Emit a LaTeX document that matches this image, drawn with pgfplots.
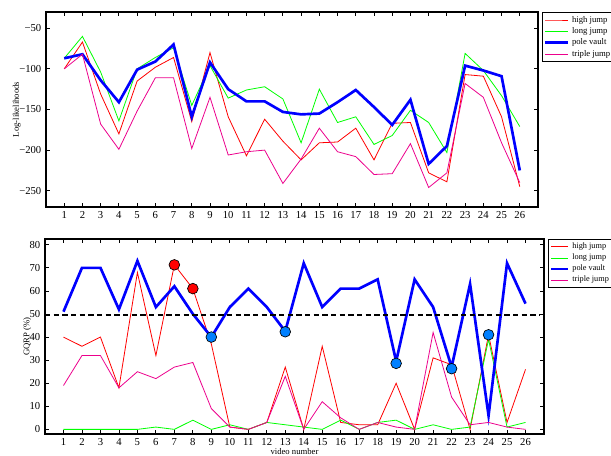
\documentclass[border=0pt]{standalone}
\usepackage{pgfplots}
\pgfplotsset{compat=1.18}
\usepackage{fontspec}
\setmainfont{Liberation Serif}
\definecolor{mkblue}{RGB}{0,128,255}
\pgfplotsset{shortleg/.style={legend image code/.code={\draw[##1] plot coordinates {(0cm,0cm) (0.22cm,0cm) (0.45cm,0cm)};}}}
\begin{document}
\begin{tikzpicture}[x=1pt,y=1pt]
\useasboundingbox (0,0) rectangle (458.25,342);
\pgfplotsset{
  common/.style={
    scale only axis,
    xmin=0, xmax=27,
    xtick={1,...,26},
    tick align=inside,
    tick pos=both,
    axis line style={line width=1pt},
    major tick length=3pt,
    every tick/.style={black, line width=0.6pt},
    tick label style={font=\fontsize{8}{9}\selectfont},
    /pgf/number format/assume math mode=true,
    label style={font=\fontsize{6.5}{7.5}\selectfont},
    legend cell align=left,
    legend style={font=\fontsize{6.5}{7.5}\selectfont, draw=black, line width=1pt,
      inner xsep=1pt, inner ysep=0.5pt, row sep=-1.5pt,
      at={(1.008,1)}, anchor=north west},
  }
}
\begin{axis}[common,
  at={(34.5pt,186.75pt)}, anchor=south west,
  width=369pt, height=146.25pt,
  ymin=-270, ymax=-30,
  ytick={-250,-200,-150,-100,-50},
  yticklabels={−250,−200,−150,−100,−50},
  ylabel={Log-likelihoods},
  ylabel style={yshift=-8pt},
]
\addplot[red, line width=0.6pt] coordinates {
(1,-100)(2,-67)(3,-131)(4,-180)(5,-115)(6,-98)(7,-86)(8,-165)(9,-80)(10,-159)
(11,-207)(12,-162)(13,-189)(14,-212)(15,-191)(16,-190)(17,-173)(18,-212)(19,-167)(20,-166)
(21,-228)(22,-239)(23,-107)(24,-109)(25,-159)(26,-245)};
\addlegendentry{high jump}
\addplot[green, line width=0.6pt] coordinates {
(1,-87)(2,-60)(3,-104)(4,-164)(5,-100)(6,-86)(7,-74)(8,-145)(9,-96)(10,-136)
(11,-126)(12,-122)(13,-137)(14,-191)(15,-125)(16,-166)(17,-159)(18,-193)(19,-182)(20,-151)
(21,-166)(22,-203)(23,-81)(24,-102)(25,-133)(26,-171)};
\addlegendentry{long jump}
\addplot[blue, line width=2pt] coordinates {
(1,-87)(2,-82)(3,-114)(4,-141)(5,-101)(6,-91)(7,-70)(8,-159)(9,-92)(10,-125)
(11,-140)(12,-140)(13,-153)(14,-156)(15,-155)(16,-141)(17,-126)(18,-147)(19,-169)(20,-138)
(21,-217)(22,-195)(23,-96)(24,-102)(25,-109)(26,-225)};
\addlegendentry{pole vault}
\addplot[magenta, line width=0.6pt] coordinates {
(1,-100)(2,-82)(3,-168)(4,-199)(5,-152)(6,-111)(7,-111)(8,-198)(9,-135)(10,-206)
(11,-202)(12,-200)(13,-241)(14,-211)(15,-173)(16,-202)(17,-208)(18,-230)(19,-229)(20,-192)
(21,-246)(22,-228)(23,-118)(24,-135)(25,-191)(26,-240)};
\addlegendentry{triple jump}
\end{axis}

\begin{axis}[common,
  at={(33.75pt,16.5pt)}, anchor=south west,
  width=374.25pt, height=146.25pt,
  ymin=-2, ymax=82.5,
  ytick={0,10,...,80},
  ylabel={GQRP (\%)},
  ylabel style={yshift=-8pt},
  xlabel={video number},
  xlabel style={yshift=5pt},
  legend style={font=\fontsize{6.2}{7.2}\selectfont},
  shortleg,
]
\addplot[red, line width=0.6pt] coordinates {
(1,40)(2,36)(3,40)(4,18)(5,68)(6,32)(7,71.3)(8,61)(9,37)(10,1)
(11,0)(12,3)(13,27)(14,0)(15,36)(16,3)(17,2)(18,2)(19,20)(20,0)
(21,31)(22,28)(23,0)(24,41)(25,3)(26,26)};
\addlegendentry{high jump}
\addplot[green, line width=0.6pt] coordinates {
(1,0)(2,0)(3,0)(4,0)(5,0)(6,1)(7,0)(8,4)(9,0)(10,2)
(11,0)(12,3)(13,2)(14,1)(15,0)(16,4)(17,0)(18,3)(19,4)(20,0)
(21,2)(22,0)(23,1)(24,39)(25,1)(26,3)};
\addlegendentry{long jump}
\addplot[blue, line width=2pt] coordinates {
(1,51)(2,70)(3,70)(4,52)(5,73)(6,53)(7,62)(8,50)(9,40)(10,53)
(11,61)(12,53)(13,42.5)(14,72)(15,53)(16,61)(17,61)(18,65)(19,29.5)(20,65)
(21,53)(22,27)(23,63)(24,6)(25,72)(26,54.5)};
\addlegendentry{pole vault}
\addplot[magenta, line width=0.6pt] coordinates {
(1,19)(2,32)(3,32)(4,18)(5,25)(6,22)(7,27)(8,29)(9,9)(10,1)
(11,0)(12,3)(13,23)(14,0)(15,12)(16,5)(17,0)(18,3)(19,1)(20,0)
(21,42)(22,14)(23,2)(24,3)(25,1)(26,0)};
\addlegendentry{triple jump}
\addplot[black, line width=1.5pt, dash pattern=on 4pt off 2.5pt, forget plot] coordinates {(0,49.7)(26.8,49.7)};
\addplot[only marks, mark=*, mark size=4pt, mark options={fill=red, draw=black, line width=0.5pt}, forget plot] coordinates {(7,71.3)(8,61)};
\addplot[only marks, mark=*, mark size=4pt, mark options={fill=mkblue, draw=black, line width=0.5pt}, forget plot] coordinates {(9,40)(13,42.3)(19,28.6)(22,26.3)(24,41)};
\end{axis}
\end{tikzpicture}
\end{document}
